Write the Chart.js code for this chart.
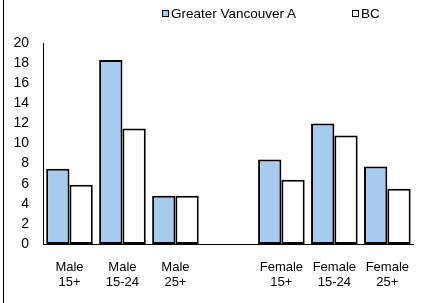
<!DOCTYPE html>
<html>
<head>
<meta charset="utf-8">
<script src="https://cdn.jsdelivr.net/npm/chart.js@4"></script>
<style>
  html, body { margin: 0; padding: 0; background: #fff; overflow: hidden; }
  #wrap { position: relative; width: 425px; height: 303px; font-family: "Liberation Sans", Arial, sans-serif; }
  #frame { position: absolute; left: 3px; top: 0; width: 1px; height: 303px; background: #000; }
  #legend { position: absolute; left: 162px; top: 6px; display: flex; gap: 56px; font-size: 13.5px; color: #000; }
  #legend .item { display: flex; align-items: center; }
  #legend .box { width: 5px; height: 5px; border: 1px solid #000; margin-right: 2px; }
</style>
</head>
<body>
<div id="wrap">
  <canvas id="myChart" width="425" height="303"></canvas>
  <div id="frame"></div>
  <div id="legend"></div>
</div>
<script>
const categories = [
  ['Male', '15+'], ['Male', '15-24'], ['Male', '25+'], '',
  ['Female', '15+'], ['Female', '15-24'], ['Female', '25+']
];
const seriesNames = ['Greater Vancouver A', 'BC'];
const vancouverValues = [7.5, 18.3, 4.8, null, 8.4, 12.0, 7.7];
const bcValues = [5.9, 11.5, 4.8, null, 6.4, 10.8, 5.5];
const yTicks = [0, 2, 4, 6, 8, 10, 12, 14, 16, 18, 20];

const colors = ['#a7cbef', '#ffffff'];

const chartData = {
  labels: categories,
  datasets: [
    {
      label: seriesNames[0],
      data: vancouverValues,
      backgroundColor: colors[0],
      borderColor: '#000',
      borderWidth: 2,
      borderSkipped: false,
    },
    {
      label: seriesNames[1],
      data: bcValues,
      backgroundColor: colors[1],
      borderColor: '#000',
      borderWidth: 2,
      borderSkipped: false,
    },
  ],
};

const chart = new Chart(document.getElementById('myChart').getContext('2d'), {
  type: 'bar',
  data: chartData,
  options: {
    responsive: false,
    animation: false,
    layout: { padding: { top: 43, left: 3, right: 0, bottom: 13 } },
    datasets: { bar: { categoryPercentage: 0.88, barPercentage: 1 } },
    plugins: {
      legend: { display: false },
      tooltip: { enabled: false },
    },
    scales: {
      x: {
        afterFit: (scale) => { scale.height = 46; },
        grid: { display: false, drawTicks: false },
        border: { display: true, color: '#000', width: 1 },
        ticks: {
          color: '#000',
          padding: 16,
          maxRotation: 0,
          autoSkip: false,
          font: { family: '"Liberation Sans", Arial', size: 13, lineHeight: 1.15 },
        },
      },
      y: {
        min: yTicks[0],
        max: yTicks[yTicks.length - 1],
        afterFit: (scale) => { scale.width = 40; },
        afterBuildTicks: (scale) => { scale.ticks = yTicks.map((v) => ({ value: v })); },
        grid: { display: false, drawTicks: false },
        border: { display: true, color: '#000', width: 1 },
        ticks: {
          color: '#000',
          padding: 14,
          autoSkip: false,
          font: { family: '"Liberation Sans", Arial', size: 14 },
        },
      },
    },
  },
});

// legend built from the datasets
const legendEl = document.getElementById('legend');
chart.data.datasets.forEach((ds) => {
  const item = document.createElement('div');
  item.className = 'item';
  const box = document.createElement('span');
  box.className = 'box';
  box.style.background = ds.backgroundColor;
  const txt = document.createElement('span');
  txt.textContent = ds.label;
  item.appendChild(box);
  item.appendChild(txt);
  legendEl.appendChild(item);
});
</script>
</body>
</html>
